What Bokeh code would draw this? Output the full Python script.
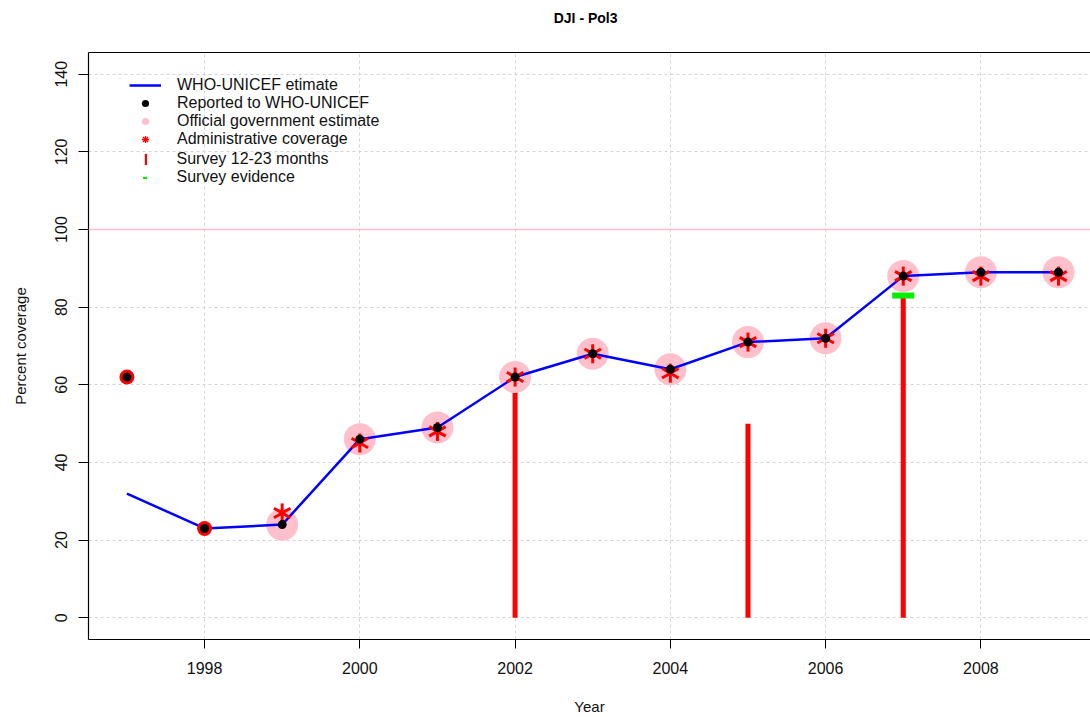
import math
from bokeh.plotting import figure
from bokeh.models import (Range1d, LinearAxis, FixedTicker, Legend, LegendItem, Span)
from bokeh.embed import file_html
from bokeh.resources import INLINE

# ---- data ----
years = [1997, 1998, 1999, 2000, 2001, 2002, 2003, 2004, 2005, 2006, 2007, 2008, 2009]
who_unicef = [32, 23, 24, 46, 49, 62, 68, 64, 71, 72, 88, 89, 89]
reported = [62, 23, 24, 46, 49, 62, 68, 64, 71, 72, 88, 89, 89]

official_years = [1999, 2000, 2001, 2002, 2003, 2004, 2005, 2006, 2007, 2008, 2009]
official = [24, 46, 49, 62, 68, 64, 71, 72, 88, 89, 89]

admin_years = [1999, 2000, 2001, 2002, 2003, 2004, 2005, 2006, 2007, 2008, 2009]
admin = [27, 45, 48, 62, 68, 63, 71, 72, 88, 88, 88]

ring_years = [1997, 1998]
ring_vals = [62, 23]

survey_years = [2002, 2005, 2007]
survey = [62, 50, 83]

evidence_years = [2007]
evidence = [83]

target = 100
x_ticks = [1998, 2000, 2002, 2004, 2006, 2008]
y_ticks = [0, 20, 40, 60, 80, 100, 120, 140]
title_text = "DJI  -  Pol3"

FONT = "Liberation Sans"
ARMS = (math.pi / 2, math.pi / 6, -math.pi / 6)

p = figure(width=1090, height=717, output_backend="svg", toolbar_location=None,
           x_range=Range1d(1996.505, 2009.412), y_range=Range1d(-5.6, 145.6),
           min_border_left=88, min_border_right=0, min_border_top=52, min_border_bottom=76,
           x_axis_label="Year", y_axis_label="Percent coverage")
p.outline_line_color = None
p.background_fill_color = "white"
p.border_fill_color = "white"

for ax in (p.xaxis[0], p.yaxis[0]):
    ax.axis_line_color = "black"
    ax.axis_line_width = 1.2
    ax.major_tick_line_color = "black"
    ax.major_tick_in = 0
    ax.minor_tick_line_color = None
    ax.major_label_text_font = FONT
    ax.major_label_text_font_size = "16px"
    ax.major_label_text_color = "#111111"
    ax.axis_label_text_font = FONT
    ax.axis_label_text_font_size = "15px"
    ax.axis_label_text_font_style = "normal"
    ax.axis_label_text_color = "#111111"

p.xaxis.ticker = FixedTicker(ticks=x_ticks)
p.xaxis.major_tick_out = 9
p.xaxis.major_label_standoff = 13
p.xaxis.axis_label_standoff = 21

p.yaxis.ticker = FixedTicker(ticks=y_ticks)
p.yaxis.major_tick_out = 10
p.yaxis.major_label_standoff = 11
p.yaxis.major_label_orientation = "vertical"
p.yaxis.axis_label_standoff = 24

# top frame line carrying the chart title
top = LinearAxis(ticker=FixedTicker(ticks=[]), axis_line_color="black", axis_line_width=1.2,
                 major_tick_out=0, major_tick_in=0, minor_tick_line_color=None,
                 major_label_text_font_size="0px",
                 axis_label=title_text, axis_label_standoff=27,
                 axis_label_text_font=FONT, axis_label_text_font_size="14px",
                 axis_label_text_font_style="bold", axis_label_text_color="black")
p.add_layout(top, "above")

p.xgrid.ticker = FixedTicker(ticks=x_ticks)
p.ygrid.ticker = FixedTicker(ticks=y_ticks)
for g in (p.xgrid[0], p.ygrid[0]):
    g.grid_line_color = "#d3d3d3"
    g.grid_line_dash = "3 3"
    g.grid_line_width = 1

p.add_layout(Span(location=target, dimension="width", line_color="#ffc0cb", line_width=1.5))

# small legend-style asterisks, hidden beneath the main ones
leg_admin = p.scatter(admin_years, admin, marker="asterisk", size=1,
                      line_color="red", line_width=1.3)

# survey bars
r_survey = p.vbar(x=survey_years, top=survey, bottom=0, width=0.065,
                  fill_color="red", line_color=None)

# official estimate (pink circles)
r_off = p.scatter(official_years, official, marker="circle", size=32,
                  fill_color="pink", line_color=None)

# WHO-UNICEF line
r_line = p.line(years, who_unicef, line_color="blue", line_width=2.5)

# ring markers
p.scatter(ring_years, ring_vals, marker="circle", size=15, fill_color="red", line_color=None)

# admin coverage asterisks (6-armed)
for ang in ARMS:
    p.scatter(admin_years, admin, marker="dash", size=19, angle=ang,
              line_color="red", line_width=3)

# reported dots
r_rep = p.scatter(years, reported, marker="circle", size=9, fill_color="black", line_color=None)

# survey evidence
r_evid = p.rect(evidence_years, evidence, width=22, height=6, width_units="screen",
                height_units="screen", fill_color="#00ee00", line_color=None)

common = dict(padding=0, margin=0, border_line_color=None, background_fill_alpha=0,
              label_text_font=FONT, label_text_font_size="16px", label_text_color="#111111",
              spacing=0)

legend_a = Legend(items=[
    LegendItem(label="WHO-UNICEF etimate", renderers=[r_line]),
    LegendItem(label="Reported to WHO-UNICEF", renderers=[r_rep]),
    LegendItem(label="Official government estimate", renderers=[r_off]),
    LegendItem(label="Administrative coverage", renderers=[leg_admin]),
], location=(41, 491), glyph_width=32, glyph_height=18, label_height=18,
    label_standoff=16, **common)
legend_b = Legend(items=[
    LegendItem(label="Survey 12-23 months", renderers=[r_survey]),
], location=(55.5, 471), glyph_width=3, glyph_height=14, label_height=14,
    label_standoff=30, **common)
legend_c = Legend(items=[
    LegendItem(label="Survey evidence", renderers=[r_evid]),
], location=(53.5, 453), glyph_width=5, glyph_height=3, label_height=18,
    label_standoff=30, **common)
for lg in (legend_a, legend_b, legend_c):
    p.add_layout(lg)

open("out.html", "w").write(file_html(p, INLINE))
